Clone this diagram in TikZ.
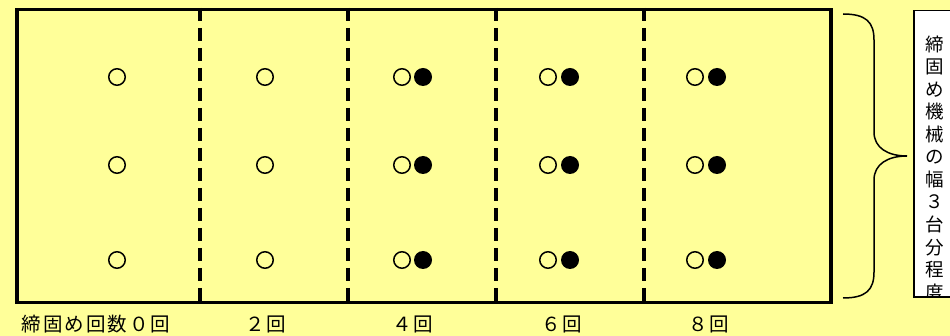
\documentclass[tikz,border=0pt]{standalone}
\usepackage{fontspec}
\newfontfamily\cjk{Noto Sans CJK JP}
\newfontfamily\cjkwide[LetterSpace=10]{Noto Sans CJK JP}
\definecolor{bg}{HTML}{FFFF99}
\begin{document}
\begin{tikzpicture}[x=1pt,y=-1pt,
  opendot/.style={circle,draw,line width=1.5pt,minimum size=16.5pt,inner sep=0pt},
  fulldot/.style={circle,fill=black,minimum size=18pt,inner sep=0pt},
  lbl/.style={font=\cjkwide\fontsize{19.5}{22}\selectfont,inner sep=0pt},
  vchar/.style={font=\cjk\fontsize{18.5}{22}\selectfont,inner sep=0pt},
  divider/.style={line width=4.8pt,dash pattern=on 13pt off 7pt},
  bracepath/.style={line width=1.5pt},
]
\fill[bg] (0,0) rectangle (950,336);
\useasboundingbox (0,0) rectangle (950,336);

% frame
\node[draw,line width=3.5pt,minimum width=814pt,minimum height=293pt,inner sep=0pt,anchor=north west] (frame) at (15,8) {};

% dividers
\foreach \x [count=\i] in {200,348,496,644} {
  \coordinate (d\i t) at (\x,8);
  \coordinate (d\i b) at (\x,301);
  \draw[divider] (d\i t) -- (d\i b);
}

% dots
\foreach \y [count=\r] in {77,165,260} {
  \node[opendot] (a\r) at (117,\y) {};
  \node[opendot] (b\r) at (265,\y) {};
  \node[opendot] (c\r) at (402,\y) {};
  \node[fulldot] (cf\r) at (423,\y) {};
  \node[opendot] (e\r) at (548,\y) {};
  \node[fulldot] (ef\r) at (570,\y) {};
  \node[opendot] (g\r) at (695,\y) {};
  \node[fulldot] (gf\r) at (717,\y) {};
}

% labels
\node[lbl] (l0) at (96,324) {締固め回数０回};
\node[lbl] (l2) at (266,324) {２回};
\node[lbl] (l4) at (413,324) {４回};
\node[lbl] (l6) at (562,324) {６回};
\node[lbl] (l8) at (709,324) {８回};

% brace
\coordinate (bt) at (843,14);
\coordinate (tip) at (907,156);
\coordinate (bb) at (843,298);
\draw[bracepath] (bt) .. controls (866,14) and (874,22) .. (874,40) -- (874,132)
  .. controls (874,148) and (888,156) .. (tip)
  .. controls (888,156) and (874,164) .. (874,180) -- (874,272)
  .. controls (874,290) and (866,298) .. (bb);

% side box
\node[draw,fill=white,line width=1.5pt,minimum width=60pt,minimum height=287pt,inner sep=0pt,anchor=north west] (sidebox) at (913,10) {};
\begin{scope}
  \clip (914,11) rectangle (950,296);
  \foreach \c [count=\i] in {締,固,め,機,械,の,幅,３,台,分,程,度} {
    \node[vchar] (v\i) at (935,{44+22.6*(\i-1)}) {\c};
  }
\end{scope}
\draw[line width=1.5pt] (913,297) -- (950,297);
\end{tikzpicture}
\end{document}
